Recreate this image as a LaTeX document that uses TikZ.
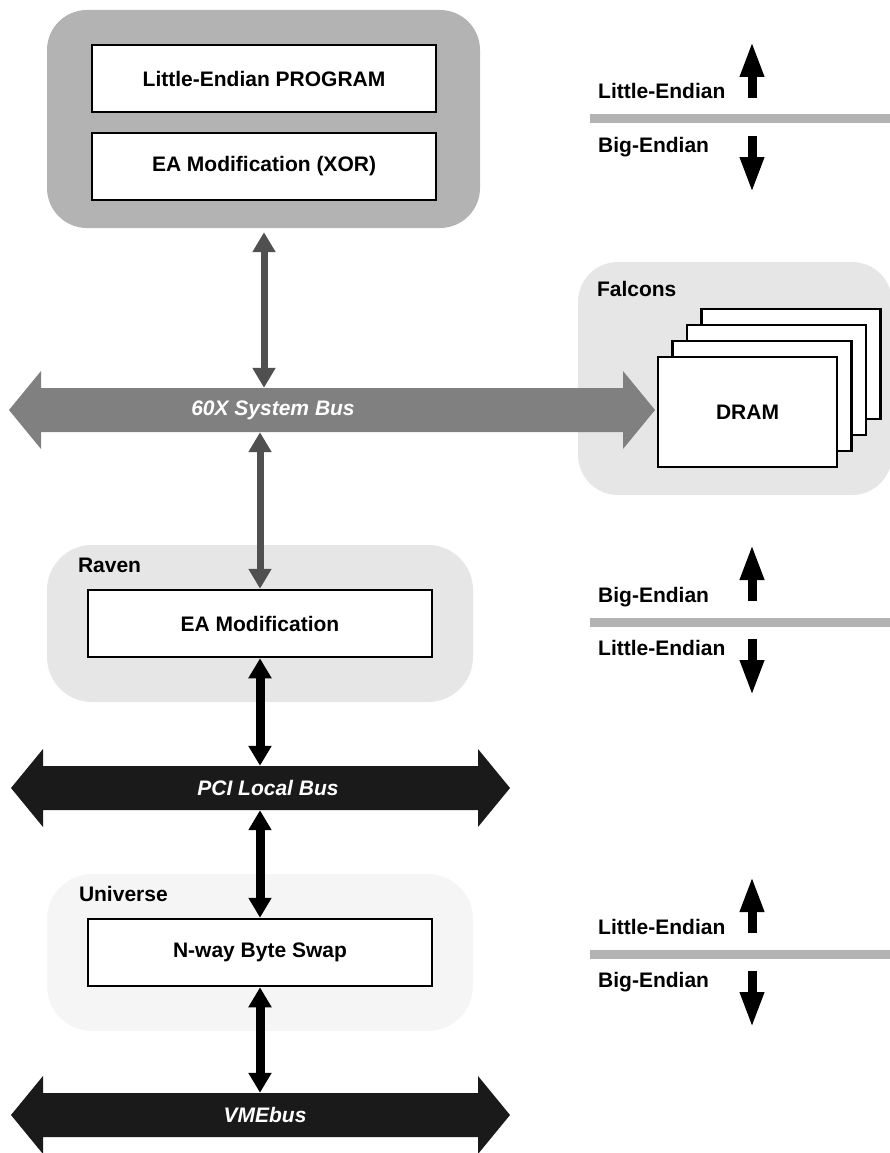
\documentclass[tikz,border=0pt]{standalone}
\usepackage{fontspec}
\setmainfont{Liberation Sans}
\usetikzlibrary{arrows.meta}
\definecolor{groupdark}{HTML}{B3B3B3}
\definecolor{grouplight}{HTML}{E6E6E6}
\definecolor{grouppale}{HTML}{F5F5F5}
\definecolor{busgray}{HTML}{808080}
\definecolor{linkgray}{HTML}{505050}
\definecolor{busblack}{HTML}{1A1A1A}
\def\busarrow[#1](#2)(#3:#4){\fill[#1] (#3,#2) -- (#3+32,#2-39) -- (#3+32,#2-22) -- (#4-32,#2-22) -- (#4-32,#2-39) -- (#4,#2) -- (#4-32,#2+39) -- (#4-32,#2+22) -- (#3+32,#2+22) -- (#3+32,#2+39) -- cycle;}
\tikzset{
	grpbox/.style={rounded corners=40pt, inner sep=0pt},
	unitbox/.style={draw, line width=2.5pt, fill=white, minimum width=344pt, minimum height=67pt, font=\fontsize{21}{25}\selectfont\bfseries},
	dram/.style={draw, line width=2.5pt, fill=white, minimum width=179pt, minimum height=110pt, font=\fontsize{21}{25}\selectfont\bfseries},
	grouplabel/.style={anchor=base west, inner sep=0pt, font=\fontsize{21}{25}\selectfont\bfseries},
	endlabel/.style={anchor=base west, inner sep=0pt, font=\fontsize{21}{25}\selectfont\bfseries},
	buslabel/.style={text=white, inner sep=0pt, minimum height=44pt, font=\fontsize{21}{25}\selectfont\bfseries\itshape},
	graylink/.style={draw=linkgray, line width=7pt, {Triangle[length=20pt,width=22pt]}-{Triangle[length=20pt,width=22pt]}},
	blacklink/.style={draw=black, line width=9pt, {Triangle[length=20pt,width=22pt]}-{Triangle[length=20pt,width=22pt]}},
	endarrow/.style={draw=black, line width=9pt, -{Triangle[length=36pt,width=22pt]}},
	divider/.style={draw=groupdark, line width=9pt}
}

\begin{document}
\begin{tikzpicture}[x=1pt, y=-1pt]
			%%%%% START %%%%%
			\useasboundingbox (0,0) rectangle (890,1153);
			
			\node[grpbox, fill=groupdark, minimum width=433pt, minimum height=218pt] (littlecpu) at (263.5,119) {};
			\node[unitbox] (progbox) at (264,78.5) {Little-Endian PROGRAM};
			\node[unitbox] (xorbox) at (264,166.5) {EA Modification (XOR)};
			
			\node[grpbox, fill=grouplight, minimum width=314pt, minimum height=233pt] (falcons) at (735,378.5) {};
			\node[grouplabel] at ([xshift=19pt,yshift=-35pt]falcons.north west) {Falcons};
			
			\node[grpbox, fill=grouplight, minimum width=426pt, minimum height=157pt, rounded corners=45pt] (raven) at (260,623.5) {};
			\node[grouplabel] at ([xshift=31pt,yshift=-28pt]raven.north west) {Raven};
			\node[unitbox] (eabox) at (260,623.5) {EA Modification};
			
			\node[grpbox, fill=grouppale, minimum width=426pt, minimum height=157pt, rounded corners=45pt] (universe) at (260,952.5) {};
			\node[grouplabel] at ([xshift=32pt,yshift=-28pt]universe.north west) {Universe};
			\node[unitbox] (swapbox) at (260,952.5) {N-way Byte Swap};
			
			\busarrow[busgray](410)(9:655)
			\node[buslabel] (sysbus) at (273,410) {60X System Bus};
			\busarrow[busblack](788)(11:510)
			\node[buslabel] (pcibus) at (268,788) {PCI Local Bus};
			\busarrow[busblack](1115)(11:510)
			\node[buslabel] (vmebus) at (265,1115) {VMEbus};
			
			\foreach \k in {3,2,1}
				\node[dram] (dram\k) at (747.5+14.5*\k,412-16*\k) {};
			\node[dram] (dram) at (747.5,412) {DRAM};
			
			\draw[graylink, shorten <=4pt] (xorbox.south |- littlecpu.south) -- (xorbox.south |- sysbus.north);
			\draw[graylink] (eabox.north |- sysbus.south) -- (eabox.north);
			\draw[blacklink] (eabox.south) -- (eabox.south |- pcibus.north);
			\draw[blacklink] (swapbox.north |- pcibus.south) -- (swapbox.north);
			\draw[blacklink] (swapbox.south) -- (swapbox.south |- vmebus.north);
			
			\foreach \y/\upper/\lower in {119/Little-Endian/Big-Endian, 622/Big-Endian/Little-Endian, 954/Little-Endian/Big-Endian}{
				\draw[divider] (590,\y) -- (890,\y);
				\node[endlabel] (upper\y) at (598,\y-20) {\upper};
				\node[endlabel] (lower\y) at (598,\y+33) {\lower};
				\draw[endarrow] (752,\y-21) -- (752,\y-78);
				\draw[endarrow] (752,\y+17) -- (752,\y+74);
			}
			%%%%% END %%%%%
\end{tikzpicture}
\end{document}
